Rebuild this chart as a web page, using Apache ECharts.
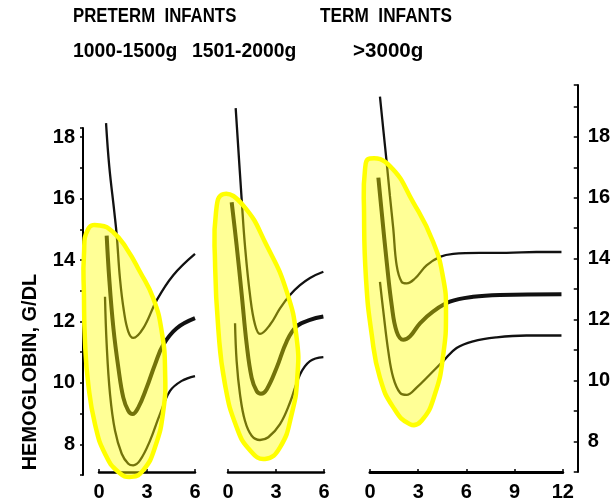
<!DOCTYPE html>
<html><head><meta charset="utf-8">
<script src="https://cdn.jsdelivr.net/npm/echarts@6/dist/echarts.min.js"></script>
<style>html,body{margin:0;padding:0;background:#fff}#c{width:613px;height:502px}</style>
</head><body><div id="c"></div>
<script>
// ---- text ----
const yName = 'HEMOGLOBIN, G/DL';
const groupTitles = ['PRETERM  INFANTS', 'TERM  INFANTS'];
const weightLabels = ['1000-1500g', '1501-2000g', '>3000g'];
// ---- axes ----
const yMin = 7, yMaxRight = 19.7, yMaxLeft = 18.3, yStep = 1;
const yTickLabels = [8, 10, 12, 14, 16, 18];
const xMaxPreterm = 6, xMaxTerm = 12, xStep = 3;

// ---- panel 1: preterm 1000-1500 g  [age (months), Hb g/dL] ----
const p1Upper = [[0.44,18.45],[0.64,17.04],[0.96,15.52],[1.11,14.76],[1.31,13.35],[1.56,12.27],[1.83,11.61],[2.14,11.40],[2.77,11.72],[3.61,12.64],[4.64,13.46],[6.0,14.16]];
const p1Median = [[0.48,14.76],[0.64,13.35],[0.9,11.72],[1.21,10.42],[1.52,9.44],[1.83,9.01],[2.1,8.90],[2.46,9.12],[2.98,9.77],[3.5,10.53],[4.02,11.18],[4.86,11.72],[6.0,12.05]];
const p1Lower = [[0.375,12.75],[0.48,11.18],[0.69,9.55],[1.0,8.36],[1.42,7.6],[1.83,7.27],[2.14,7.22],[2.56,7.38],[3.19,8.03],[3.81,8.9],[4.44,9.66],[5.17,9.99],[6.0,10.15]];
const p1Zone = [[-0.67,14.98],[0.06,15.09],[0.89,14.87],[1.73,14.33],[2.56,13.57],[3.39,12.70],[3.92,11.61],[4.13,10.31],[4.02,9.01],[3.5,7.81],[2.77,7.06],[2.04,6.84],[1.21,7.0],[0.375,7.6],[-0.25,8.57],[-0.67,9.88],[-0.875,11.29],[-0.94,12.81],[-0.94,14.11]];

// ---- panel 2: preterm 1501-2000 g ----
const p2Upper = [[0.48,18.94],[0.86,15.90],[1.06,14.43],[1.375,12.81],[1.69,11.83],[2.0,11.53],[2.625,11.83],[3.25,12.37],[3.875,12.81],[4.5,13.13],[5.125,13.37],[5.96,13.57]];
const p2Median = [[0.23,15.85],[0.54,14.43],[0.86,12.81],[1.17,11.18],[1.48,10.09],[1.79,9.66],[2.06,9.57],[2.42,9.71],[3.04,10.42],[3.67,11.29],[4.29,11.78],[5.125,11.99],[5.96,12.10]];
const p2Lower = [[0.44,11.88],[0.54,10.64],[0.75,9.55],[1.06,8.68],[1.48,8.19],[2.0,8.05],[2.52,8.14],[3.25,8.57],[3.875,9.28],[4.5,10.2],[5.125,10.64],[5.96,10.77]];
const p2Zone = [[-0.29,16.12],[0.96,15.74],[2.42,14.43],[3.67,12.92],[4.29,11.40],[4.33,10.09],[3.98,8.90],[3.25,7.81],[2.31,7.43],[1.375,7.71],[0.54,8.47],[-0.19,9.88],[-0.61,11.72],[-0.81,13.89],[-0.75,15.52]];

// ---- panel 3: term > 3000 g ----
const p3Upper = [[0.62,19.32],[0.83,18.23],[1.04,17.15],[1.24,16.06],[1.45,14.98],[1.66,13.78],[1.97,13.24],[2.28,13.19],[2.8,13.35],[3.52,13.78],[4.35,14.06],[5.18,14.16],[6.84,14.19],[8.5,14.19],[10.36,14.22],[11.92,14.22]];
const p3Median = [[0.52,16.66],[0.73,15.52],[1.04,13.89],[1.35,12.48],[1.66,11.61],[2.07,11.34],[2.49,11.45],[3.11,11.88],[3.94,12.27],[4.97,12.59],[6.42,12.75],[8.08,12.81],[11.92,12.83]];
const p3Lower = [[0.62,13.24],[0.83,12.27],[1.14,10.96],[1.45,10.09],[1.87,9.60],[2.28,9.53],[2.9,9.77],[3.73,10.20],[4.56,10.64],[5.39,11.07],[6.42,11.29],[7.88,11.42],[9.74,11.48],[11.92,11.48]];
const p3Zone = [[0,17.29],[1.24,17.04],[2.69,15.85],[3.94,14.54],[4.56,13.35],[4.73,12.27],[4.56,10.85],[4.04,9.55],[3.21,8.68],[2.49,8.57],[1.45,9.12],[0.62,10.09],[0.11,11.50],[-0.25,13.35],[-0.37,15.52],[-0.31,16.93]];

const panels = [
  {upper: p1Upper, median: p1Median, lower: p1Lower, zone: p1Zone},
  {upper: p2Upper, median: p2Median, lower: p2Lower, zone: p2Zone},
  {upper: p3Upper, median: p3Median, lower: p3Lower, zone: p3Zone}
];

const FONT = 'Liberation Sans, Arial, sans-serif';
const axisLabelStyle = {fontFamily: FONT, fontWeight: 'bold', fontSize: 20, color: '#000'};

const chart = echarts.init(document.getElementById('c'), null, {renderer: 'canvas'});

const grids = [
  {left: 99, width: 96, top: 85, height: 390},
  {left: 228, width: 96, top: 85, height: 390},
  {left: 370, width: 193, top: 85, height: 390},
  {left: 83, width: 10, top: 128, height: 347}
];

function xAx(i, max) {
  return {
    type: 'value', gridIndex: i, min: 0, max: max, interval: xStep,
    axisLine: {show: true, onZero: false, lineStyle: {color: '#000', width: i === 2 ? 3 : 2.5}},
    axisTick: {show: true, inside: true, length: 3, lineStyle: {color: '#000', width: 1.5}},
    splitLine: {show: false},
    axisLabel: Object.assign({margin: 10}, axisLabelStyle)
  };
}
const yLabelFmt = v => (yTickLabels.indexOf(v) >= 0 ? String(v) : '');

const xAxis = [xAx(0, xMaxPreterm), xAx(1, xMaxPreterm), xAx(2, xMaxTerm),
  {type: 'value', gridIndex: 3, min: 0, max: 1, show: false}];
const yAxis = [
  {type: 'value', gridIndex: 0, min: yMin, max: yMaxRight, show: false},
  {type: 'value', gridIndex: 1, min: yMin, max: yMaxRight, show: false},
  {type: 'value', gridIndex: 2, min: yMin, max: yMaxRight, interval: yStep, position: 'right', offset: 15,
   axisLine: {show: true, onZero: false, lineStyle: {color: '#000', width: 2}},
   axisTick: {show: true, inside: true, length: 4, lineStyle: {color: '#000', width: 1.5}},
   splitLine: {show: false},
   axisLabel: Object.assign({margin: 10, formatter: yLabelFmt}, axisLabelStyle)},
  {type: 'value', gridIndex: 3, min: yMin, max: yMaxLeft, interval: yStep, position: 'left',
   axisLine: {show: true, onZero: false, lineStyle: {color: '#000', width: 2}},
   axisTick: {show: true, inside: false, length: 3, lineStyle: {color: '#000', width: 1.5}},
   splitLine: {show: false},
   axisLabel: Object.assign({margin: 8, formatter: yLabelFmt}, axisLabelStyle)}
];

const series = [];
panels.forEach((p, i) => {
  [['upper', 2.3], ['median', 4], ['lower', 2.3]].forEach(([k, w]) => {
    series.push({
      type: 'line', xAxisIndex: i, yAxisIndex: i, data: p[k], smooth: 0.4,
      showSymbol: false, symbol: 'none', clip: false, z: 2,
      lineStyle: {color: '#111', width: w}
    });
  });
  const zone = p.zone;
  series.push({
    type: 'custom', xAxisIndex: i, yAxisIndex: i, data: zone, z: 10, clip: false,
    renderItem: function (params, api) {
      if (params.dataIndex !== 0) return null;
      const pts = zone.map(d => api.coord(d));
      return {
        type: 'polygon',
        shape: {points: pts, smooth: 0.5},
        style: {fill: 'rgba(255,255,0,0.41)', stroke: '#ffff00', lineWidth: 4.5}
      };
    }
  });
});

const titleFont = 'bold 21px "Liberation Sans", Arial, sans-serif';
const subFont = 'bold 21px "Liberation Sans", Arial, sans-serif';
const graphic = [
  {type: 'text', x: 73, y: 16, scaleX: 0.8, style: {text: groupTitles[0], font: titleFont, fill: '#000', textVerticalAlign: 'middle'}},
  {type: 'text', x: 320, y: 16, scaleX: 0.82, style: {text: groupTitles[1], font: titleFont, fill: '#000', textVerticalAlign: 'middle'}},
  {type: 'text', x: 73, y: 51, scaleX: 0.92, style: {text: weightLabels[0], font: subFont, fill: '#000', textVerticalAlign: 'middle'}},
  {type: 'text', x: 192, y: 51, scaleX: 0.92, style: {text: weightLabels[1], font: subFont, fill: '#000', textVerticalAlign: 'middle'}},
  {type: 'text', x: 353, y: 51, scaleX: 0.98, style: {text: weightLabels[2], font: subFont, fill: '#000', textVerticalAlign: 'middle'}},
  {type: 'text', x: 30, y: 372, rotation: Math.PI / 2,
   style: {text: yName, font: 'bold 20px "Liberation Sans", Arial, sans-serif', fill: '#000', textAlign: 'center', textVerticalAlign: 'middle'}}
];

chart.setOption({
  animation: false,
  backgroundColor: '#fff',
  grid: grids,
  xAxis: xAxis,
  yAxis: yAxis,
  series: series,
  graphic: graphic
});
</script></body></html>
